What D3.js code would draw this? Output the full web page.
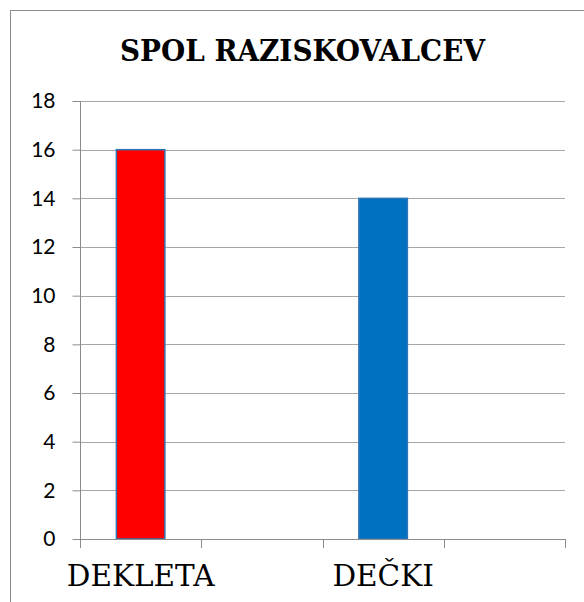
<!DOCTYPE html>
<html>
<head>
<meta charset="utf-8">
<script src="https://cdn.jsdelivr.net/npm/d3@7"></script>
<style>
  html, body { margin: 0; padding: 0; background: #fff; }
  svg { display: block; }
</style>
</head>
<body>
<div id="chart"></div>
<script>
const title = "SPOL RAZISKOVALCEV";
const categories = ["DEKLETA", "", "DEČKI", ""];
const values = [16, null, 14, null];
const barColors = ["#FF0000", null, "#0070C0", null];
const yTicks = [0, 2, 4, 6, 8, 10, 12, 14, 16, 18];

const W = 584, H = 602;
const svg = d3.select("#chart").append("svg").attr("width", W).attr("height", H);

svg.append("rect")
  .attr("x", 10.5).attr("y", 10.5)
  .attr("width", 700).attr("height", 700)
  .attr("fill", "none").attr("stroke", "#8c8c8c").attr("stroke-width", 1);

const x = d3.scaleBand().domain(d3.range(categories.length)).range([80, 565]).padding(0);
const y = d3.scaleLinear().domain([0, 18]).range([539, 101]);

const t = svg.append("text")
  .style("font-family", "'DejaVu Serif', serif")
  .attr("x", 302.5).attr("y", 61)
  .attr("text-anchor", "middle")
  .attr("font-weight", "bold")
  .attr("font-size", 30)
  .attr("fill", "#000")
  .text(title);
t.attr("textLength", 365).attr("lengthAdjust", "spacingAndGlyphs");

svg.append("g").selectAll("line").data(yTicks.filter(d => d > 0)).join("line")
  .attr("x1", 80).attr("x2", 565)
  .attr("y1", d => Math.round(y(d)) + 0.5).attr("y2", d => Math.round(y(d)) + 0.5)
  .attr("stroke", "#a6a6a6").attr("stroke-width", 1);

const yAxis = d3.axisLeft(y).tickValues(yTicks).tickSize(8).tickPadding(17).tickFormat(d3.format("d"));
const gy = svg.append("g").attr("transform", "translate(80.5,0)").call(yAxis);
gy.select(".domain").attr("stroke", "#8c8c8c").attr("d", `M0,${y(0)}V${y(18)}`);
gy.selectAll(".tick line").attr("stroke", "#8c8c8c");
gy.selectAll(".tick text")
  .style("font-family", "Lato, sans-serif")
  .style("font-size", "21px")
  .attr("fill", "#000");

svg.append("g").selectAll("rect").data(values.map((v, i) => ({v, i})).filter(d => d.v != null)).join("rect")
  .attr("x", d => x(d.i) + x.bandwidth() * 0.3)
  .attr("width", x.bandwidth() * 0.4)
  .attr("y", d => y(d.v))
  .attr("height", d => y(0) - y(d.v))
  .attr("fill", d => barColors[d.i])
  .attr("stroke", "#2E75B6")
  .attr("stroke-width", 1.5);

const boundaries = d3.range(categories.length + 1).map(i => 80 + i * x.step());
const gx = svg.append("g");
gx.append("line")
  .attr("x1", 80).attr("x2", 565)
  .attr("y1", Math.round(y(0)) + 0.5).attr("y2", Math.round(y(0)) + 0.5)
  .attr("stroke", "#8c8c8c");
gx.selectAll("line.tk").data(boundaries).join("line").attr("class", "tk")
  .attr("x1", d => Math.round(d) + 0.5).attr("x2", d => Math.round(d) + 0.5)
  .attr("y1", y(0)).attr("y2", y(0) + 9)
  .attr("stroke", "#8c8c8c");
gx.selectAll("text").data(categories).join("text")
  .style("font-family", "'DejaVu Serif', serif")
  .attr("x", (d, i) => x(i) + x.bandwidth() / 2)
  .attr("y", 586)
  .attr("text-anchor", "middle")
  .attr("font-size", 29.5)
  .attr("fill", "#000")
  .text(d => d);
</script>
</body>
</html>
